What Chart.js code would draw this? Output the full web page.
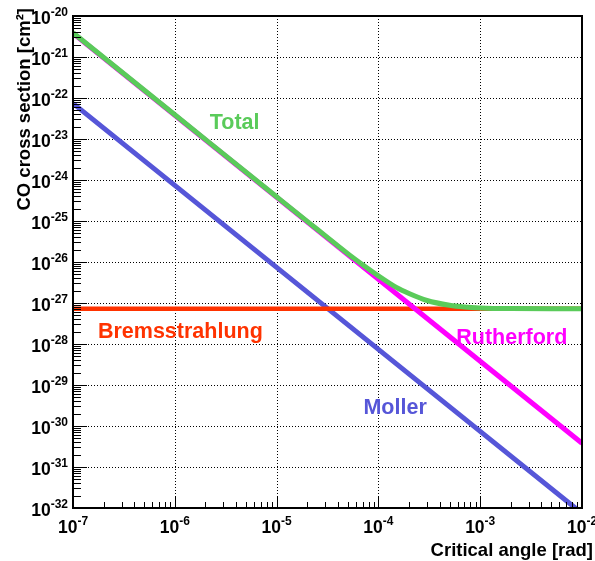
<!DOCTYPE html>
<html><head><meta charset="utf-8">
<script src="https://cdn.jsdelivr.net/npm/chart.js@4/dist/chart.umd.min.js"></script>
<style>html,body{margin:0;padding:0;background:#fff}</style>
</head><body>
<canvas id="c" width="595" height="561"></canvas>
<script>
// ---- data ----
const angles = [1e-7, 1e-6, 1e-5, 1e-4, 1e-3, 1e-2];
const rutherford = [3.8e-21, 3.8e-23, 3.8e-25, 3.8e-27, 3.8e-29, 3.8e-31];
const moller = [7.4e-23, 7.4e-25, 7.4e-27, 7.4e-29, 7.4e-31, 7.4e-33];
const bremsstrahlung = [7.2e-28, 7.2e-28, 7.2e-28, 7.2e-28, 7.2e-28, 7.2e-28];
const totalAngles = [1e-7, 1e-6, 1e-5, 2e-5, 3e-5, 5e-5, 7e-5, 1e-4, 1.5e-4, 2e-4, 3e-4, 5e-4, 7e-4, 1e-3, 2e-3, 5e-3, 1e-2];
const total = [3.9e-21, 3.9e-23, 3.9e-25, 9.8e-26, 4.4e-26, 1.6e-26, 8.6e-27, 4.6e-27, 2.4e-27, 1.7e-27, 1.15e-27, 8.8e-28, 8.0e-28, 7.6e-28, 7.3e-28, 7.2e-28, 7.2e-28];
const seriesNames = ['Total', 'Rutherford', 'Bremsstrahlung', 'Moller'];
// tick labels: base "10" with the exponent drawn as a superscript
const tickBase = '10';
const xTickExponents = ['-7', '-6', '-5', '-4', '-3', '-2'];
const yTickExponents = ['-32', '-31', '-30', '-29', '-28', '-27', '-26', '-25', '-24', '-23', '-22', '-21', '-20'];
const xTitle = 'Critical angle [rad]';
const yTitle = 'CO cross section [cm²]';

const X_MIN_EXP = -7, X_MAX_EXP = -2, Y_MIN_EXP = -32, Y_MAX_EXP = -20;
const COLORS = {Total:'#5acb5a', Rutherford:'#ff00ff', Bremsstrahlung:'#ff3300', Moller:'#5656d8'};
const FONT = '"Liberation Sans", Arial, Helvetica, sans-serif';
const BASE_FONT = 'bold 17.5px ' + FONT;
const EXP_FONT = 'bold 12px ' + FONT;

const pts = (xs, ys) => xs.map((x, i) => ({x, y: ys[i]}));
const isDecade = v => Math.abs(Math.log10(v) - Math.round(Math.log10(v))) < 1e-6;
function logTicks(a, b) {
  const t = [];
  for (let e = a; e < b; e++) for (let k = 1; k <= 9; k++) t.push({value: k * Math.pow(10, e)});
  t.push({value: Math.pow(10, b)});
  return t;
}

function drawPow(ctx, exp, anchorX, baseY, align) {
  ctx.font = BASE_FONT; const wb = ctx.measureText(tickBase).width;
  ctx.font = EXP_FONT; const we = ctx.measureText(exp).width;
  const w = wb + we;
  let left = align === 'right' ? anchorX - w : anchorX - w / 2;
  ctx.textAlign = 'left'; ctx.textBaseline = 'alphabetic';
  ctx.font = BASE_FONT; ctx.fillText(tickBase, left, baseY);
  ctx.font = EXP_FONT; ctx.fillText(exp, left + wb, baseY - 8);
}

const decor = {
  id: 'decor',
  beforeDatasetsDraw(chart) {
    const {ctx, chartArea: a, scales: {x, y}} = chart;
    ctx.save();
    ctx.strokeStyle = '#000'; ctx.lineWidth = 1; ctx.setLineDash([1, 2]);
    for (let e = X_MIN_EXP + 1; e < X_MAX_EXP; e++) {
      const px = Math.round(x.getPixelForValue(Math.pow(10, e))) + 0.5;
      ctx.beginPath(); ctx.moveTo(px, a.top); ctx.lineTo(px, a.bottom); ctx.stroke();
    }
    for (let e = Y_MIN_EXP + 1; e < Y_MAX_EXP; e++) {
      const py = Math.round(y.getPixelForValue(Math.pow(10, e))) + 0.5;
      ctx.beginPath(); ctx.moveTo(a.left, py); ctx.lineTo(a.right, py); ctx.stroke();
    }
    ctx.restore();
  },
  afterDatasetsDraw(chart) {
    const {ctx, chartArea: a, scales: {x, y}} = chart;
    ctx.save();
    ctx.setLineDash([]);
    ctx.strokeStyle = '#000'; ctx.lineWidth = 1;
    // inward tick marks
    x.ticks.forEach(t => {
      const px = Math.round(x.getPixelForValue(t.value)) + 0.5;
      const len = isDecade(t.value) ? 12 : 6;
      ctx.beginPath(); ctx.moveTo(px, a.bottom); ctx.lineTo(px, a.bottom - len); ctx.stroke();
    });
    y.ticks.forEach(t => {
      const py = Math.round(y.getPixelForValue(t.value)) + 0.5;
      const len = isDecade(t.value) ? 14 : 8;
      ctx.beginPath(); ctx.moveTo(a.left, py); ctx.lineTo(a.left + len, py); ctx.stroke();
    });
    // frame
    ctx.lineWidth = 2;
    ctx.strokeRect(a.left, a.top, a.right - a.left, a.bottom - a.top);
    // tick labels
    ctx.fillStyle = '#000';
    x.ticks.forEach(t => {
      if (!isDecade(t.value)) return;
      const e = Math.round(Math.log10(t.value));
      drawPow(ctx, xTickExponents[e - X_MIN_EXP], x.getPixelForValue(t.value), a.bottom + 25, 'center');
    });
    y.ticks.forEach(t => {
      if (!isDecade(t.value)) return;
      const e = Math.round(Math.log10(t.value));
      drawPow(ctx, yTickExponents[e - Y_MIN_EXP], a.left - 5, y.getPixelForValue(t.value) + 8, 'right');
    });
    // series labels (positions in log10 data coordinates: left edge, baseline)
    const labels = [
      {name: 'Total', lx: -5.657, ly: -22.76},
      {name: 'Bremsstrahlung', lx: -6.755, ly: -27.85},
      {name: 'Rutherford', lx: -3.235, ly: -27.995},
      {name: 'Moller', lx: -4.147, ly: -29.71}
    ];
    ctx.font = 'bold 21.5px ' + FONT;
    ctx.textAlign = 'left'; ctx.textBaseline = 'alphabetic';
    labels.forEach(l => {
      ctx.fillStyle = COLORS[l.name];
      ctx.fillText(l.name, x.getPixelForValue(Math.pow(10, l.lx)), y.getPixelForValue(Math.pow(10, l.ly)));
    });
    // axis titles
    ctx.fillStyle = '#000';
    ctx.font = 'bold 18.5px ' + FONT;
    ctx.textAlign = 'right'; ctx.textBaseline = 'middle';
    ctx.fillText(xTitle, 593, 551);
    ctx.translate(25, 8); ctx.rotate(-Math.PI / 2);
    ctx.fillText(yTitle, 0, 0);
    ctx.restore();
  }
};

const ds = (name, data, extra) => Object.assign({
  label: name, data, borderColor: COLORS[name], backgroundColor: COLORS[name],
  borderWidth: 5, pointRadius: 0, fill: false, tension: 0, showLine: true
}, extra || {});

new Chart(document.getElementById('c'), {
  type: 'scatter',
  data: {datasets: [
    ds('Total', pts(totalAngles, total), {cubicInterpolationMode: 'monotone'}),
    ds('Rutherford', pts(angles, rutherford)),
    ds('Bremsstrahlung', pts(angles, bremsstrahlung), {borderWidth: 4.5}),
    ds('Moller', pts(angles, moller))
  ]},
  options: {
    responsive: false, animation: false, devicePixelRatio: 1,
    layout: {padding: {top: 16, right: 13, bottom: 0, left: 0}},
    plugins: {legend: {display: false}, tooltip: {enabled: false}},
    scales: {
      x: {
        type: 'logarithmic', min: Math.pow(10, X_MIN_EXP), max: Math.pow(10, X_MAX_EXP),
        grid: {display: false, drawTicks: false}, border: {display: false},
        afterBuildTicks: s => { s.ticks = logTicks(X_MIN_EXP, X_MAX_EXP); },
        afterFit: s => { s.height = 53; s.paddingLeft = 0; s.paddingRight = 0; },
        ticks: {display: false, autoSkip: false}
      },
      y: {
        type: 'logarithmic', min: Math.pow(10, Y_MIN_EXP), max: Math.pow(10, Y_MAX_EXP),
        grid: {display: false, drawTicks: false}, border: {display: false},
        afterBuildTicks: s => { s.ticks = logTicks(Y_MIN_EXP, Y_MAX_EXP); },
        afterFit: s => { s.width = 73; s.paddingTop = 0; s.paddingBottom = 0; },
        ticks: {display: false, autoSkip: false}
      }
    }
  },
  plugins: [decor]
});
</script>
</body></html>
